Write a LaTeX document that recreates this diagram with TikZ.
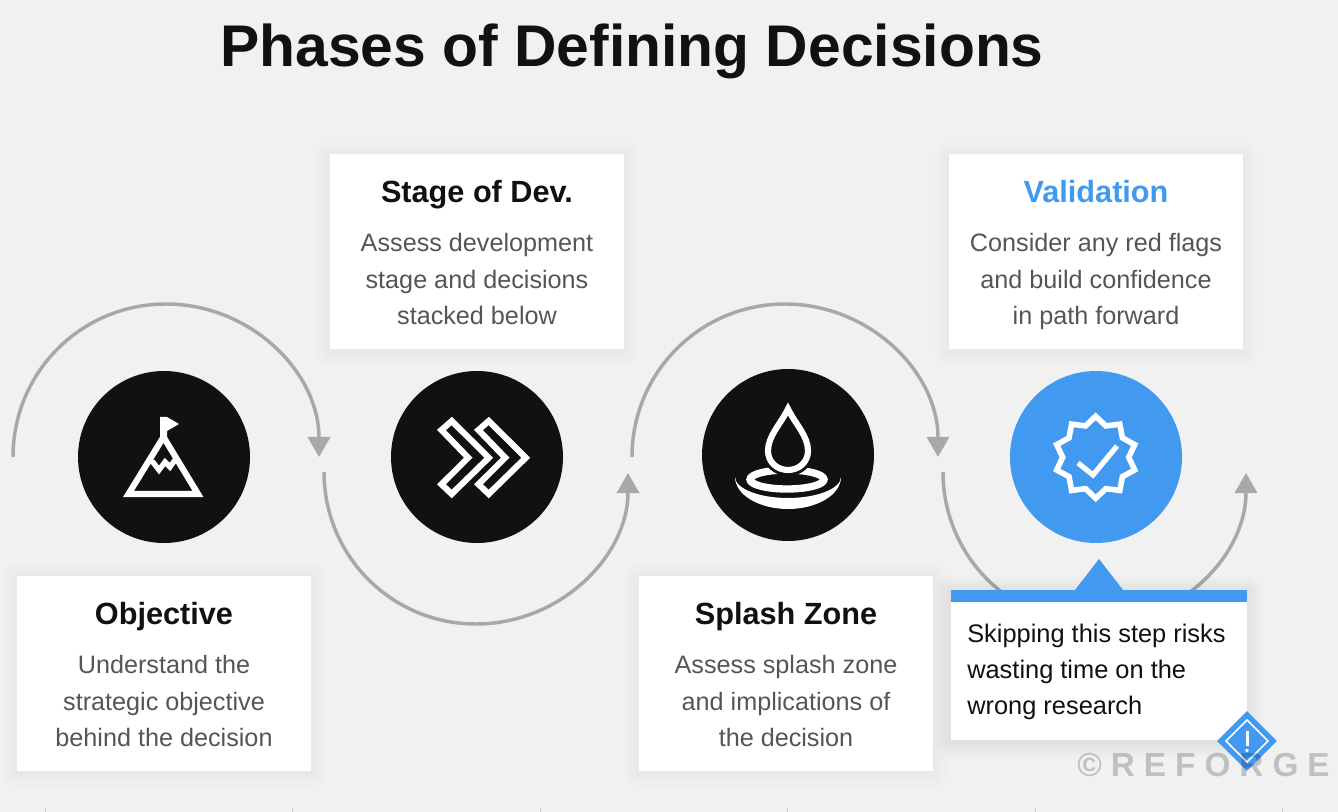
\documentclass[tikz,border=0pt]{standalone}
\usepackage{fontspec}
\setmainfont{Liberation Sans}
\newfontfamily\markfont[LetterSpace=27]{Liberation Sans}
\definecolor{refBg}{HTML}{F1F1F1}
\definecolor{refBlack}{HTML}{111111}
\definecolor{refBlue}{HTML}{4299F0}
\definecolor{refGray}{HTML}{A8A8A8}
\definecolor{refText}{HTML}{555555}
\usetikzlibrary{arrows.meta, positioning, shapes.geometric}
% soft shadow round a card: left, top, right, bottom, opacity of one step
\newcommand{\softshadow}[5]{%
  \foreach \s in {2,4,...,16}
    \fill[black, opacity=#5, rounded corners=\s*0.75pt] ({#1-\s},{#2+\s-2}) rectangle ({#3+\s},{#4-\s-2});
}

\begin{document}
\begin{tikzpicture}[
  x=0.75pt, y=0.75pt,
  card/.style={rectangle, fill=white, minimum width=220.5pt, minimum height=146pt, inner sep=0pt},
  head/.style={font=\fontsize{23}{27}\selectfont\bfseries, text=refBlack, inner sep=0pt, text height=17pt, text depth=5pt},
  body/.style={font=\fontsize{18.9}{27.3}\selectfont, text=refText, align=center, inner sep=0pt},
  disc/.style={circle, fill=refBlack, minimum size=129pt, inner sep=0pt},
  loopline/.style={draw=refGray, line width=2.6pt, -{Triangle[length=15pt, width=16.5pt]}},
  icon/.style={draw=white, line width=4.6pt, miter limit=8, line join=miter}
]
  \useasboundingbox (0,0) rectangle (1338,-812);
  % Background
  \fill[refBg] (0,0) rectangle (1338,-812);
  \node[font=\fontsize{44.1}{50}\selectfont\bfseries, text=refBlack, inner sep=0pt] (title) at (632,-51.5) {Phases of Defining Decisions};

  % Loop ends
  \coordinate (objStart) at (13,-457);
  \coordinate (objTop) at (166,-304);
  \coordinate (objEnd) at (319,-457);
  \coordinate (devStart) at (324,-472);
  \coordinate (devLow) at (476,-624);
  \coordinate (devEnd) at (628,-473);
  \coordinate (splStart) at (632,-457);
  \coordinate (splTop) at (785,-304);
  \coordinate (splEnd) at (938,-457);
  \coordinate (valStart) at (943,-472);
  \coordinate (valLow) at (1095,-624);
  \coordinate (valEnd) at (1246,-473);

  \draw[loopline] (objStart) to[out=90, in=180] (objTop) to[out=0, in=90] (objEnd);
  \draw[loopline] (devStart) to[out=-90, in=180] (devLow) to[out=0, in=-90] (devEnd);
  \draw[loopline] (splStart) to[out=90, in=180] (splTop) to[out=0, in=90] (splEnd);
  \draw[loopline] (valStart) to[out=-90, in=180] (valLow) to[out=0, in=-90] (valEnd);

  % Discs
  \node[disc] (objDisc) at (164,-457) {};
  \node[disc] (devDisc) at (477,-457) {};
  \node[disc] (splDisc) at (788,-455) {};
  \node[disc, fill=refBlue] (valDisc) at (1096,-457) {};

  % Cards
  \softshadow{17}{-576}{311}{-771}{0.0025}
  \node[card] (objCard) at (164,-673.5) {};
  \node[head, below=19.5pt of objCard.north] (objHead) {Objective};
  \node[body, below=17.5pt of objHead] (objBody) {Understand the\\strategic objective\\behind the decision};

  \softshadow{330}{-154}{624}{-349}{0.0025}
  \node[card] (devCard) at (477,-251.5) {};
  \node[head, below=19.5pt of devCard.north] (devHead) {Stage of Dev.};
  \node[body, below=17.5pt of devHead] (devBody) {Assess development\\stage and decisions\\stacked below};

  \softshadow{639}{-576}{933}{-771}{0.0025}
  \node[card] (splCard) at (786,-673.5) {};
  \node[head, below=19.5pt of splCard.north] (splHead) {Splash Zone};
  \node[body, below=17.5pt of splHead] (splBody) {Assess splash zone\\and implications of\\the decision};

  \softshadow{949}{-154}{1243}{-349}{0.0025}
  \node[card] (valCard) at (1096,-251.5) {};
  \node[head, text=refBlue, below=19.5pt of valCard.north] (valHead) {Validation};
  \node[body, below=17.5pt of valHead] (valBody) {Consider any red flags\\and build confidence\\in path forward};

  % Mountain icon
  \draw[icon] (163.5,-437) -- (198,-494) -- (128.5,-494) -- cycle;
  \draw[icon, line width=4pt] (152,-461) -- (159,-470) -- (165,-462) -- (170,-467) -- (175,-460);
  \fill[white] (160,-417) -- (167,-417) -- (179,-424) -- (167,-431) -- (167,-438) -- (160,-438) -- cycle;

  % Chevron icon
  \draw[icon] (451.7,-421) -- (488.8,-457.7) -- (451.7,-494) -- (441.5,-484.3) -- (468.2,-457.7) -- (441.5,-430) -- cycle;
  \draw[icon] (488.7,-421) -- (525.8,-457.7) -- (488.7,-494) -- (478.5,-484.3) -- (505.2,-457.7) -- (478.5,-430) -- cycle;

  % Drop icon
  \fill[white] (735,-477) .. controls (735,-494.7) and (759,-509) .. (788,-509) .. controls (817,-509) and (841,-494.7) .. (841,-477)
    .. controls (841,-488.6) and (817,-498) .. (788,-498) .. controls (759,-498) and (735,-488.6) .. (735,-477) -- cycle;
  \draw[icon, line width=5.5pt] (787,-479.5) ellipse [x radius=37, y radius=9.5];
  \draw[draw=refBlack, fill=refBlack, line width=9pt, line join=round] (788,-409) .. controls (796,-425) and (808,-436) .. (808,-451) .. controls (808,-462) and (799,-470) .. (788,-470) .. controls (777,-470) and (768,-462) .. (768,-451) .. controls (768,-436) and (780,-425) .. (788,-409) -- cycle;
  \draw[icon] (788,-409) .. controls (796,-425) and (808,-436) .. (808,-451) .. controls (808,-462) and (799,-470) .. (788,-470) .. controls (777,-470) and (768,-462) .. (768,-451) .. controls (768,-436) and (780,-425) .. (788,-409) -- cycle;

  % Badge icon
  \draw[icon, line width=4.2pt] plot[samples at={0,18,...,342}, variable=\a] ({1095.7+(37-4*cos(10*\a))*cos(\a)}, {-457.3+(37-4*cos(10*\a))*sin(\a)}) -- cycle;
  \draw[icon, line width=3.9pt] (1078,-463) -- (1093,-475) -- (1117,-446);

  % Callout
  \softshadow{951}{-590}{1247}{-740}{0.009}
  \node[rectangle, fill=white, minimum width=222pt, minimum height=112.5pt, inner sep=0pt] (warnCard) at (1099,-665) {};
  \fill[refBlue] (warnCard.north west) rectangle ([yshift=-9pt]warnCard.north east);
  \fill[refBlue] (1075,-590) -- (1099,-559) -- (1123,-590) -- cycle;
  \node[body, font=\fontsize{19.05}{27.3}\selectfont, text=refBlack, align=left, anchor=north west] (warnBody) at (967,-623.5) {Skipping this step risks\\wasting time on the\\wrong research};

  % Warning mark
  \node[diamond, fill=refBlue, minimum size=45pt, inner sep=0pt] (warnMark) at (1247,-741) {};
  \node[diamond, draw=white, line width=1.2pt, minimum size=32pt, inner sep=0pt] (warnInner) at (warnMark) {};
  \fill[white] (1245.5,-731) rectangle (1248.5,-746);
  \fill[white] (1247,-750.5) circle (1.8);

  % Watermark
  \node[font=\fontsize{25}{30}\selectfont\markfont\bfseries, text=black, opacity=0.2, inner sep=0pt, anchor=west] (markText) at (1077,-765) {©REFORGE};
  \foreach \tx in {45,292,540,787,1035,1282}
    \draw[refGray!60, line width=0.6pt] (\tx,-808) -- (\tx,-812);
\end{tikzpicture}
\end{document}
